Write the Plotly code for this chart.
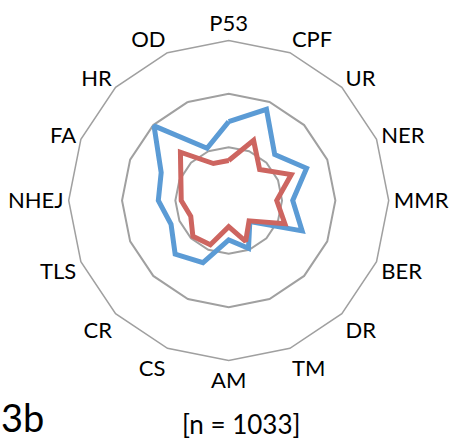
import plotly.graph_objects as go

categories = ["P53", "CPF", "UR", "NER", "MMR", "BER", "DR", "TM",
              "AM", "CS", "CR", "TLS", "NHEJ", "FA", "HR", "OD"]
blue_values = [1.48, 1.85, 1.22, 1.58, 1.20, 1.49, 0.56, 0.97,
               0.74, 1.26, 1.42, 1.17, 1.32, 1.37, 1.98, 1.06]
red_values = [0.75, 1.22, 0.82, 1.27, 0.90, 1.14, 0.54, 0.83,
              0.49, 0.90, 0.95, 0.77, 0.89, 0.97, 1.28, 0.75]
ring_values = [1, 2, 3]

fig = go.Figure()
fig.add_trace(go.Scatterpolar(
    r=blue_values + blue_values[:1], theta=categories + categories[:1],
    mode="lines", line=dict(color="#5B9BD5", width=5), showlegend=False))
fig.add_trace(go.Scatterpolar(
    r=red_values + red_values[:1], theta=categories + categories[:1],
    mode="lines", line=dict(color="#CD6560", width=5), showlegend=False))

fig.update_layout(
    width=454, height=441,
    margin=dict(l=0, r=0, t=0, b=0),
    paper_bgcolor="white", plot_bgcolor="white",
    font=dict(family="Lato, 'Open Sans', sans-serif", color="black"),
    polar=dict(
        domain=dict(x=[0.1513, 0.8562], y=[0.1825, 0.9082]),
        bgcolor="white",
        gridshape="linear",
        radialaxis=dict(range=[0, 3], tickvals=ring_values[:2], showticklabels=False,
                        ticks="", showline=False, gridcolor="#A0A0A0", gridwidth=1.5),
        angularaxis=dict(direction="clockwise", rotation=90, showgrid=False,
                         showline=True, linecolor="#A0A0A0", linewidth=1.5,
                         ticks="outside", ticklen=0, tickcolor="rgba(0,0,0,0)",
                         tickfont=dict(size=22, color="black")),
    ),
    annotations=[
        dict(text="3b", x=0.0, y=0.0, xref="paper", yref="paper",
             xanchor="left", yanchor="bottom", showarrow=False,
             font=dict(size=38, color="black"), borderpad=0),
        dict(text="[n = 1033]", x=0.531, y=0.0, xref="paper", yref="paper",
             xanchor="center", yanchor="bottom", showarrow=False,
             font=dict(size=26, color="black"), borderpad=0),
    ],
)
fig.write_html("out.html", config={"displayModeBar": False},
               post_script="document.body.style.margin='0';")
